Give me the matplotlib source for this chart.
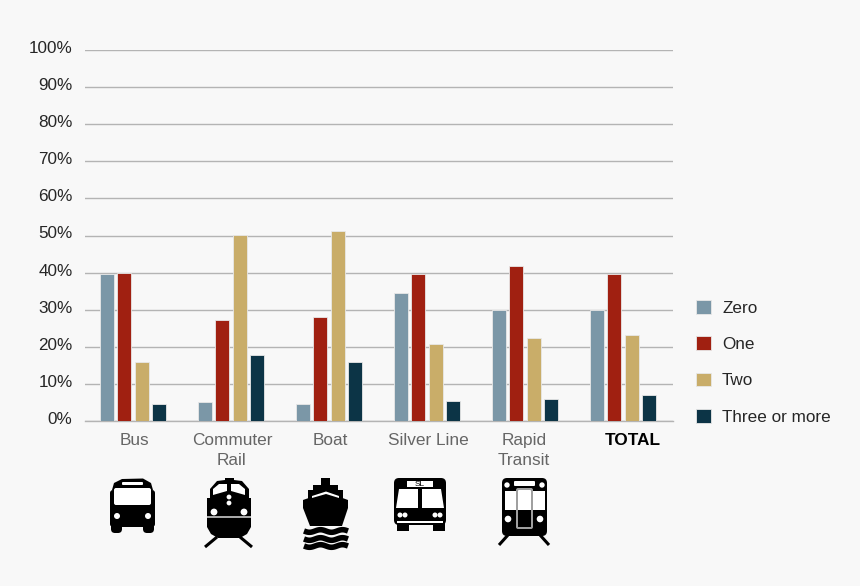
#!/usr/bin/env python
import matplotlib
matplotlib.use("Agg")
import matplotlib.pyplot as plt
import matplotlib.transforms as mtrans
import numpy as np
from matplotlib.patches import Circle, FancyBboxPatch, Polygon, Rectangle

plt.rcParams["font.family"] = ["Liberation Sans", "DejaVu Sans"]

categories = ["Bus", "Commuter\nRail", "Boat", "Silver Line", "Rapid\nTransit", "TOTAL"]
zero = [39.5, 5.2, 4.5, 34.5, 29.8, 29.8]
one = [40.0, 27.2, 28.0, 39.5, 41.7, 39.5]
two = [15.8, 50.2, 51.2, 20.7, 22.3, 23.2]
three_plus = [4.5, 17.7, 16.0, 5.3, 6.0, 7.0]
series_names = ["Zero", "One", "Two", "Three or more"]
y_ticks = list(range(0, 101, 10))

colors = ["#7b97a7", "#a02011", "#c9ad69", "#0c3446"]
BG = "#f8f8f8"


def box(ax, x0, y0, x1, y1, color="black", r=2.0, z=3, **kw):
    ax.add_patch(FancyBboxPatch((x0 + r, y0 + r), x1 - x0 - 2 * r, y1 - y0 - 2 * r,
                                boxstyle=f"round,pad={r},rounding_size={r}",
                                fc=color, ec="none", zorder=z, **kw))


def rect(ax, x0, y0, x1, y1, color="white", z=4):
    ax.add_patch(Rectangle((x0, y0), x1 - x0, y1 - y0, fc=color, ec="none", zorder=z))


def dot(ax, x, y, r=3.0, color="white"):
    ax.add_patch(Circle((x, y), r, fc=color, ec="none", zorder=6))


def poly(ax, pts, color="black", z=3):
    ax.add_patch(Polygon(pts, closed=True, fc=color, ec="none", zorder=z))


def rail(ax, x0, y0, x1, y1):
    ax.plot([x0, x1], [y0, y1], color="black", lw=2.2, solid_capstyle="butt", zorder=3)


def draw_bus(ax):
    box(ax, 110, 490, 155, 527, r=3)
    poly(ax, [(112, 490), (114, 483), (122, 479), (143, 478.5), (151, 483), (153, 490)])
    box(ax, 111, 520, 122, 533, r=4)
    box(ax, 143, 520, 154, 533, r=4)
    box(ax, 114, 488, 151, 505, color="white", r=2, z=4)
    box(ax, 122, 482, 143, 485, color="white", r=1, z=4)
    dot(ax, 117, 516)
    dot(ax, 148, 516)


def draw_train(ax):
    poly(ax, [(210, 500), (210, 489), (217, 481), (225, 480), (225, 478), (234, 478), (234, 480),
              (242, 481), (249, 489), (249, 500)])
    poly(ax, [(207, 498), (251, 498), (251, 527), (247, 534), (240, 538), (218, 538), (211, 534), (207, 527)])
    poly(ax, [(213, 495), (213, 489), (219, 484), (227, 484), (227, 491)], "white", 4)
    poly(ax, [(245, 495), (245, 489), (239, 484), (231, 484), (231, 491)], "white", 4)
    rect(ax, 207, 516, 251, 517.5, "#a8a8a8")
    dot(ax, 229, 497, 2.4)
    dot(ax, 229, 503, 2.4)
    dot(ax, 214, 512, 3.4)
    dot(ax, 244, 512, 3.4)
    rail(ax, 217, 537, 205, 547)
    rail(ax, 240, 537, 252, 547)


def draw_boat(ax):
    rect(ax, 321, 478, 330, 486, "black", 3)
    rect(ax, 313, 485, 338, 491, "black", 3)
    rect(ax, 308, 490, 343, 499, "black", 3)
    poly(ax, [(303, 500), (326, 492), (348, 500), (348, 508), (342, 526), (310, 526), (303, 508)])
    poly(ax, [(312, 496), (326, 491.5), (339, 496), (339, 498), (326, 494), (312, 498)], "white", 4)
    xs = np.linspace(304, 348, 60)
    for y0 in (531, 539, 546):
        ax.plot(xs, y0 + 1.3 * np.sin((xs - 304) * 2 * np.pi / 22), color="black", lw=4.0,
                solid_capstyle="butt", zorder=3)


def draw_silver(ax):
    box(ax, 394, 478, 446, 525, r=5)
    rect(ax, 397, 520, 409, 531, "black", 3)
    rect(ax, 433, 520, 445, 531, "black", 3)
    rect(ax, 407, 481, 433, 487)
    ax.text(420, 484.2, "SL", fontsize=6, ha="center", va="center", color="black", zorder=6)
    poly(ax, [(399, 489), (418, 489), (418, 508), (396, 508)], "white", 4)
    poly(ax, [(422, 489), (441, 489), (444, 508), (422, 508)], "white", 4)
    rect(ax, 397, 521, 443, 523)
    for px in (400, 405, 435, 440):
        dot(ax, px, 515, 2.5)


def draw_rapid(ax):
    box(ax, 502, 478, 547, 536, r=5)
    rect(ax, 505, 491, 545, 510)
    box(ax, 514, 481, 535, 486, color="white", r=1, z=4)
    box(ax, 516, 488, 533, 529, color="#a0a0a0", r=2, z=5)
    box(ax, 518, 490, 531, 527, color="white", r=1, z=5)
    ax.add_patch(Rectangle((518, 510), 13, 16.5, fc="black", ec="none", zorder=6))
    dot(ax, 507, 485, 2.7)
    dot(ax, 542, 485, 2.7)
    dot(ax, 508, 519, 3.3)
    dot(ax, 540, 519, 3.3)
    rail(ax, 508, 535, 499, 545)
    rail(ax, 540, 535, 549, 545)


fig = plt.figure(figsize=(8.6, 5.86), dpi=100, facecolor=BG)
ax = fig.add_axes([85 / 860, 1 - 421 / 586, 588 / 860, 371 / 586], facecolor=BG)

x = np.arange(len(categories))
step = 17.5 / 98
width = 14 / 98
for i, vals in enumerate([zero, one, two, three_plus]):
    ax.bar(x + (i - 1.5) * step - 1 / 98, vals, width, color=colors[i], edgecolor="#e8e8e8",
           linewidth=0.6, label=series_names[i], zorder=3)

ax.set_xlim(-0.5, 5.5)
ax.set_ylim(0, 100)
ax.set_yticks(y_ticks)
ax.set_yticklabels([f"{v}%" for v in y_ticks], fontsize=12.3, color="#262626")
ax.set_xticks(x)
ax.set_xticklabels(categories, fontsize=12.4, color="#666666", linespacing=1.42)
ax.get_xticklabels()[-1].set_fontweight("bold")
ax.get_xticklabels()[-1].set_color("black")
ax.tick_params(axis="y", length=0, pad=9)
ax.tick_params(axis="x", length=0, pad=8.5)
ax.grid(axis="y", color="#b4b4b4", lw=1, zorder=0)
ax.set_axisbelow(True)
for side in ("top", "right", "left"):
    ax.spines[side].set_visible(False)
ax.spines["bottom"].set_color("#b4b4b4")
ax.spines["bottom"].set_linewidth(1)

# y labels sit slightly above their gridlines in the original
shift = mtrans.ScaledTranslation(0, 3 / 100, fig.dpi_scale_trans)
for lab in ax.get_yticklabels():
    lab.set_transform(lab.get_transform() + shift)

# TOTAL and Rapid Transit labels are off-centre in the original
labs = ax.get_xticklabels()
labs[5].set_transform(labs[5].get_transform() + mtrans.ScaledTranslation(8.5 / 100, 0, fig.dpi_scale_trans))
labs[4].set_transform(labs[4].get_transform() + mtrans.ScaledTranslation(-2 / 100, 0, fig.dpi_scale_trans))

fig.legend(loc="upper left", bbox_to_anchor=(692 / 860, 1 - 296 / 586), bbox_transform=fig.transFigure,
           frameon=False, fontsize=12.3, handlelength=0.85, handleheight=0.85, handletextpad=0.66,
           labelspacing=1.2, labelcolor="#262626", borderpad=0.25, borderaxespad=0)

# transit icons, drawn on an overlay in pixel coordinates
ov = fig.add_axes([0, 0, 1, 1], facecolor="none", zorder=5)
ov.set_xlim(0, 860)
ov.set_ylim(586, 0)
ov.axis("off")
draw_bus(ov)
draw_train(ov)
draw_boat(ov)
draw_silver(ov)
draw_rapid(ov)

fig.savefig("out.png", dpi=100, facecolor=BG)
